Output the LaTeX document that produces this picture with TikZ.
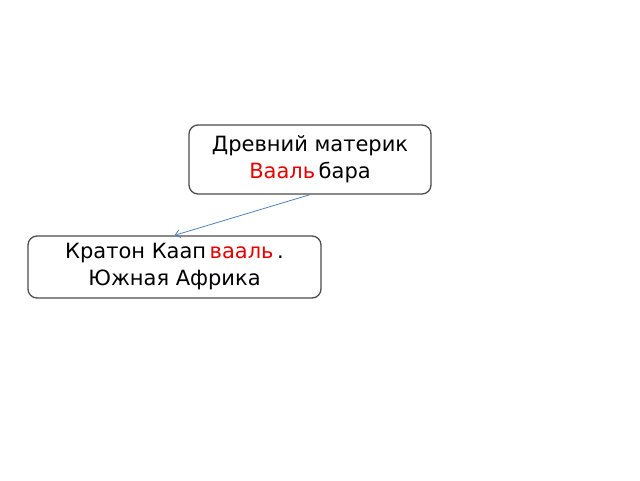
\documentclass[tikz,border=0pt]{standalone}
\usepackage{fontspec}
\setmainfont{DejaVu Sans}
\usetikzlibrary{arrows,arrows.meta,positioning}
\definecolor{txtred}{RGB}{230,0,0}
\definecolor{arrblue}{RGB}{79,129,189}

\begin{document}
\begin{tikzpicture}[x=1pt,y=-1pt,thick]
    \tikzstyle{box}=[draw=black!70, line width=1.3pt, rounded corners=9pt, align=center,
        font=\fontsize{21}{27}\selectfont, inner sep=0pt]
    \tikzstyle{link}=[-{Straight Barb[length=5pt,width=8pt]}, draw=arrblue, line width=0.8pt]

    \useasboundingbox (0,0) rectangle (640,480);

    \node[box, minimum width=242pt, minimum height=69pt] (vaal) at (310,159.5)
        {Древний материк\\\textcolor{txtred}{Вааль}\,бара};
    \node[box, minimum width=293pt, minimum height=62pt] (kaap) at (174.5,267)
        {Кратон Каап\,\textcolor{txtred}{вааль}\,.\\Южная Африка};

    \draw[link] (vaal.south) -- (kaap.north);

\end{tikzpicture}
\end{document}
